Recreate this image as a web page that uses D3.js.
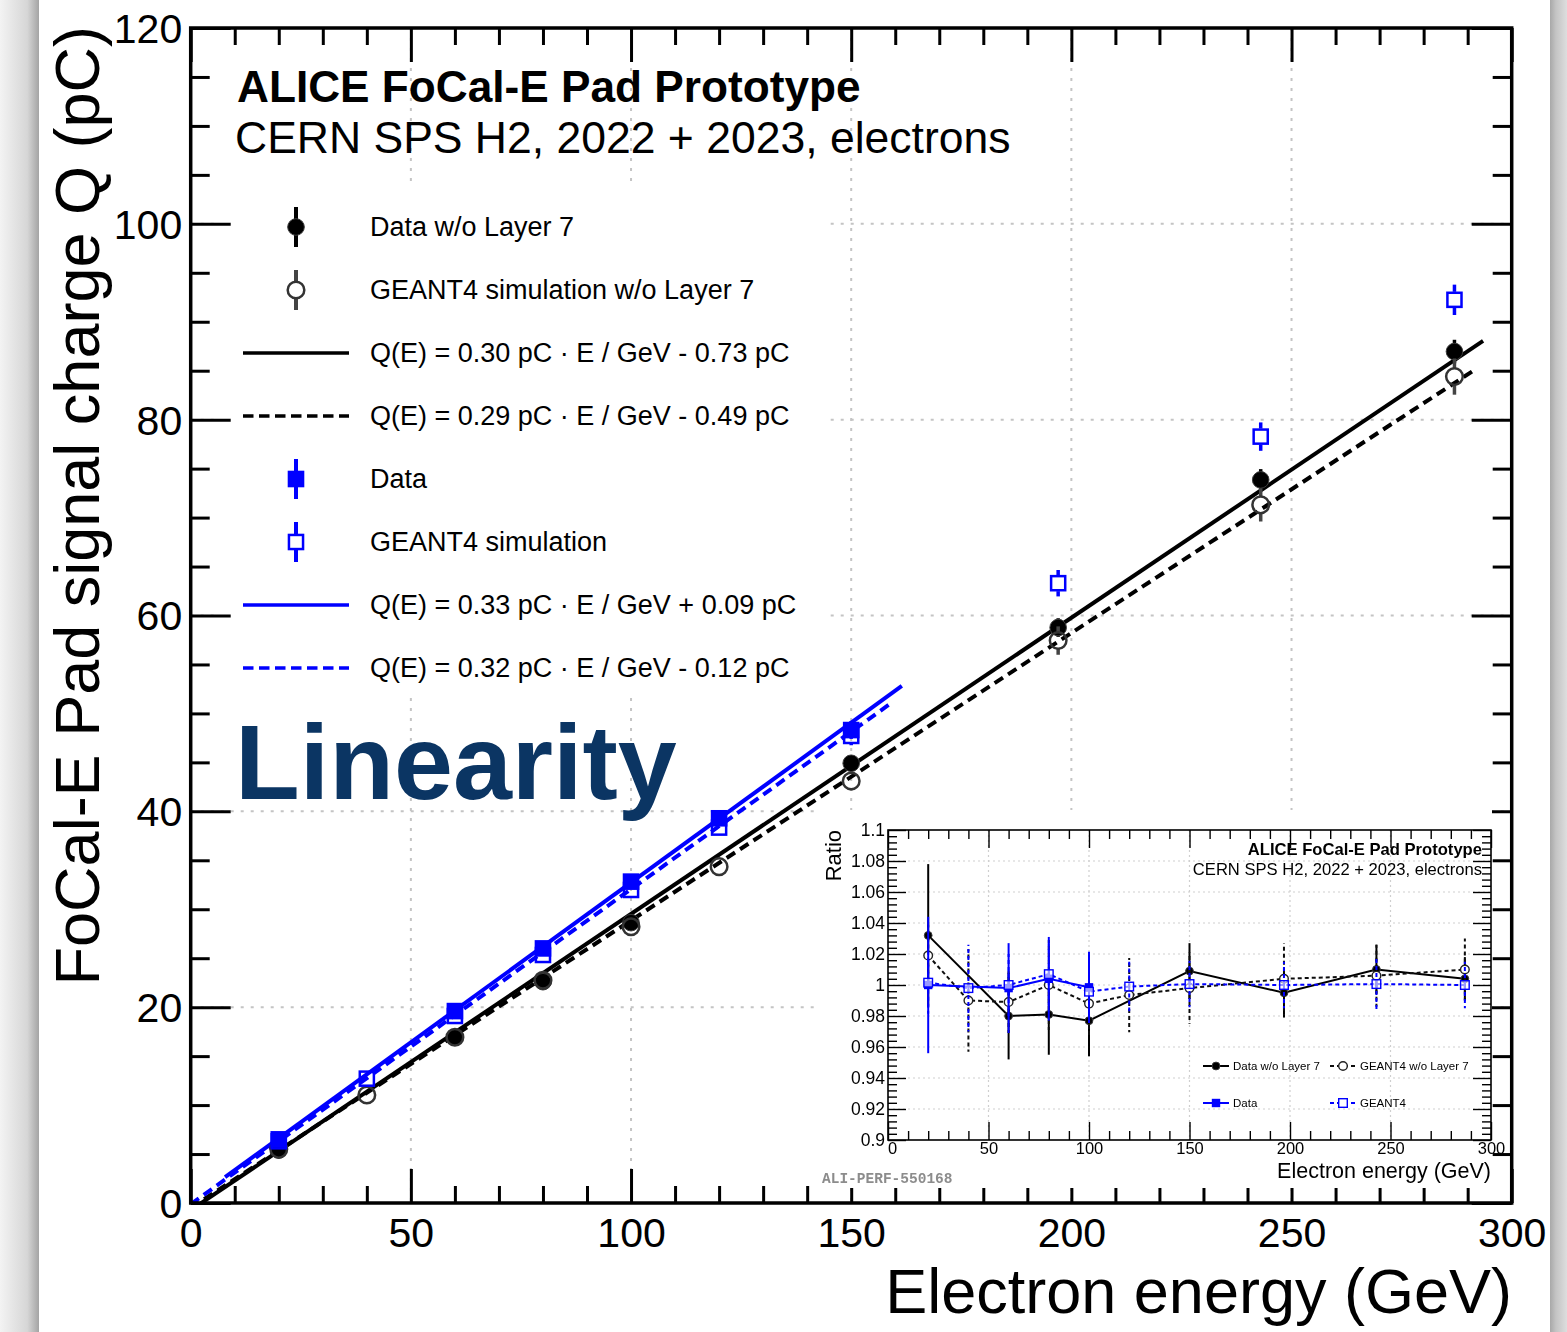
<!DOCTYPE html>
<html>
<head>
<meta charset="utf-8">
<script src="https://cdn.jsdelivr.net/npm/d3@7"></script>
<style>
  body { margin: 0; background: #fff; }
  svg { display: block; }
</style>
</head>
<body>
<svg id="chart" width="1567" height="1332"></svg>
<script>
// ---------------- data ----------------
// beam energies (GeV)
const energies = [20, 40, 60, 80, 100, 120, 150, 197, 243, 287];

// signal charge (pC), configuration without layer 7
const dataNoL7E = [20, 60, 80, 100, 150, 197, 243, 287];
const dataNoL7Q = [5.41, 16.93, 22.6, 28.63, 44.91, 58.77, 73.85, 86.96];
const dataNoL7Err = [0.25, 0.48, 0.58, 0.65, 0.8, 0.95, 1.1, 1.2];
const simNoL7Q = [5.48, 11.03, 16.92, 22.75, 28.22, 34.35, 43.1, 57.44, 71.3, 84.4];
const simNoL7Err = [0.15, 0.35, 0.4, 0.6, 0.6, 0.8, 0.95, 1.45, 1.7, 1.85];

// signal charge (pC), full configuration
const dataE = [20, 60, 80, 100, 120, 150];
const dataQ = [6.5, 19.6, 26.0, 32.82, 39.29, 48.3];
const dataErr = [0.25, 0.55, 0.7, 0.7, 0.8, 0.9];
const simQ = [6.3, 12.7, 19.1, 25.33, 31.97, 38.34, 47.7, 63.3, 78.27, 92.24];
const simErr = [0.2, 0.35, 0.5, 0.6, 0.7, 0.8, 0.95, 1.35, 1.45, 1.55];

// linear fits Q(E) = slope * E + offset, drawn over their fit ranges
const fitSlopes = [0.3025, 0.2935, 0.3264, 0.3217];
const fitOffsets = [-0.73, -0.49, 0.09, -0.12];
const fitRanges = [[0, 293.5], [0, 292.1], [7.8, 161.5], [0, 159.2]];

// ratio to fit (inset)
const ratioDataNoL7 = [1.032, 0.980, 0.981, 0.977, 1.009, 0.995, 1.010, 1.004];
const ratioDataNoL7Err = [0.046, 0.028, 0.026, 0.023, 0.018, 0.016, 0.016, 0.014];
const ratioSimNoL7 = [1.019, 0.990, 0.989, 1.000, 0.988, 0.9935, 0.998, 1.004, 1.006, 1.010];
const ratioSimNoL7Err = [0.02, 0.033, 0.02, 0.029, 0.02, 0.024, 0.023, 0.023, 0.02, 0.02];
const ratioDataE = [20, 60, 80, 100];
const ratioData = [1.000, 0.998, 1.004, 0.9985];
const ratioDataErr = [0.044, 0.029, 0.027, 0.023];
const ratioSim = [1.0015, 0.998, 1.000, 1.007, 0.9957, 0.999, 1.0006, 1.000, 1.0006, 1.000];
const ratioSimErr = [0.02, 0.028, 0.02, 0.02, 0.02, 0.016, 0.015, 0.015, 0.017, 0.015];

// axis ticks
const xMajorTicks = [0, 50, 100, 150, 200, 250, 300];
const yMajorTicks = [0, 20, 40, 60, 80, 100, 120];
const ratioTicks = [0.9, 0.92, 0.94, 0.96, 0.98, 1, 1.02, 1.04, 1.06, 1.08, 1.1];

// texts
const titleText = "ALICE FoCal-E Pad Prototype";
const subtitleText = "CERN SPS H2, 2022 + 2023, electrons";
const xTitle = "Electron energy (GeV)";
const yTitle = "FoCal-E Pad signal charge Q (pC)";
const seriesNames = ["Data w/o Layer 7", "GEANT4 simulation w/o Layer 7", "Data", "GEANT4 simulation"];
const insetNames = ["Data w/o Layer 7", "GEANT4 w/o Layer 7", "Data", "GEANT4"];
const watermark = "ALI-PERF-550168";

// ---------------- drawing ----------------
const FONT = '"Liberation Sans", Arial, Helvetica, sans-serif';
const BLUE = "#0000ff";
const W = 1567, H = 1332;
const svg = d3.select("#chart");
const defs = svg.append("defs");

// page edge shading
const gl = defs.append("linearGradient").attr("id", "edgeL");
gl.append("stop").attr("offset", 0).attr("stop-color", "#f3f3f3");
gl.append("stop").attr("offset", 0.7).attr("stop-color", "#d6d6d6");
gl.append("stop").attr("offset", 1).attr("stop-color", "#a4a4a4");
svg.append("rect").attr("x", 0).attr("y", 0).attr("width", 39).attr("height", H).attr("fill", "url(#edgeL)");
const gr = defs.append("linearGradient").attr("id", "edgeR");
gr.append("stop").attr("offset", 0).attr("stop-color", "#a8a8a8");
gr.append("stop").attr("offset", 0.35).attr("stop-color", "#c4c4c4");
gr.append("stop").attr("offset", 1).attr("stop-color", "#dedede");
svg.append("rect").attr("x", 1550).attr("y", 0).attr("width", W - 1550).attr("height", H).attr("fill", "url(#edgeR)");

// main scales
const x = d3.scaleLinear().domain([0, 300]).range([190.7, 1511.7]);
const y = d3.scaleLinear().domain([0, 120]).range([1203, 28]);

defs.append("clipPath").attr("id", "frameClip").append("rect")
  .attr("x", x(0)).attr("y", y(120)).attr("width", x(300) - x(0)).attr("height", y(0) - y(120));

// grid
const grid = svg.append("g").attr("stroke", "#c4c4c4").attr("stroke-width", 2).attr("stroke-dasharray", "3,7");
grid.selectAll("line.gx").data(xMajorTicks.slice(1, -1)).join("line").attr("class", "gx")
  .attr("x1", d => x(d)).attr("x2", d => x(d)).attr("y1", y(120)).attr("y2", y(0));
grid.selectAll("line.gy").data(yMajorTicks.slice(1, -1)).join("line").attr("class", "gy")
  .attr("x1", x(0)).attr("x2", x(300)).attr("y1", d => y(d)).attr("y2", d => y(d));

// legend background
svg.append("rect").attr("x", 219).attr("y", 187).attr("width", 609).attr("height", 508).attr("fill", "#fff");

// fits
const fitStyles = [
  { color: "#000", dash: null },
  { color: "#000", dash: "10,6" },
  { color: BLUE, dash: null },
  { color: BLUE, dash: "10,6" }
];
const lineGen = d3.line().x(d => x(d[0])).y(d => y(d[1]));
const fitG = svg.append("g").attr("clip-path", "url(#frameClip)");
fitSlopes.forEach((s, i) => {
  const pts = fitRanges[i].map(e => [e, s * e + fitOffsets[i]]);
  fitG.append("path").attr("d", lineGen(pts)).attr("fill", "none")
    .attr("stroke", fitStyles[i].color).attr("stroke-width", 4)
    .attr("stroke-dasharray", fitStyles[i].dash);
});

// marker helpers
function errBar(g, cx, cy, up, down, gap, color, width, dash) {
  // vertical error bar, interrupted by the marker body
  if (up > gap) g.append("line").attr("x1", cx).attr("x2", cx).attr("y1", cy - gap).attr("y2", cy - up)
    .attr("stroke", color).attr("stroke-width", width).attr("stroke-dasharray", dash || null);
  if (down > gap) g.append("line").attr("x1", cx).attr("x2", cx).attr("y1", cy + gap).attr("y2", cy + down)
    .attr("stroke", color).attr("stroke-width", width).attr("stroke-dasharray", dash || null);
}
function marker(g, type, cx, cy, size, sw) {
  if (type === "fc") g.append("circle").attr("cx", cx).attr("cy", cy).attr("r", size)
    .attr("fill", "#000").attr("stroke", "#3a3a3a").attr("stroke-width", 1);
  else if (type === "oc") g.append("circle").attr("cx", cx).attr("cy", cy).attr("r", size)
    .attr("fill", "none").attr("stroke", "#333").attr("stroke-width", sw);
  else if (type === "fs") g.append("rect").attr("x", cx - size).attr("y", cy - size)
    .attr("width", 2 * size).attr("height", 2 * size).attr("fill", BLUE);
  else if (type === "os") g.append("rect").attr("x", cx - size + sw / 2).attr("y", cy - size + sw / 2)
    .attr("width", 2 * size - sw).attr("height", 2 * size - sw).attr("fill", "none")
    .attr("stroke", BLUE).attr("stroke-width", sw);
}

// points (main)
const ptsG = svg.append("g");
function drawSeries(es, qs, errs, type, color) {
  es.forEach((e, i) => {
    const cx = x(e), cy = y(qs[i]);
    const up = cy - y(qs[i] + errs[i]), down = y(qs[i] - errs[i]) - cy;
    const filled = type === "fc" || type === "fs";
    errBar(ptsG, cx, cy, up, down, filled ? 0 : 8, color, 3.5);
    marker(ptsG, type, cx, cy, 8.3, 2.5);
  });
}
drawSeries(dataNoL7E, dataNoL7Q, dataNoL7Err, "fc", "#000");
drawSeries(energies, simNoL7Q, simNoL7Err, "oc", "#444");
drawSeries(dataE, dataQ, dataErr, "fs", BLUE);
drawSeries(energies, simQ, simErr, "os", BLUE);

// title
svg.append("text").attr("x", 237).attr("y", 102).attr("font-family", FONT).attr("font-weight", "bold")
  .attr("font-size", 44.2).attr("fill", "#000").text(titleText);
svg.append("text").attr("x", 235).attr("y", 153).attr("font-family", FONT)
  .attr("font-size", 44.5).attr("fill", "#000").text(subtitleText);

// legend
function fitLabel(i) {
  const o = fitOffsets[i];
  return `Q(E) = ${fitSlopes[i].toFixed(2)} pC \u00b7 E / GeV ${o < 0 ? "-" : "+"} ${Math.abs(o).toFixed(2)} pC`;
}
const legendEntries = [
  { kind: "fc", label: seriesNames[0], color: "#000" },
  { kind: "oc", label: seriesNames[1], color: "#444" },
  { kind: "line", fit: 0, label: fitLabel(0) },
  { kind: "line", fit: 1, label: fitLabel(1) },
  { kind: "fs", label: seriesNames[2], color: BLUE },
  { kind: "os", label: seriesNames[3], color: BLUE },
  { kind: "line", fit: 2, label: fitLabel(2) },
  { kind: "line", fit: 3, label: fitLabel(3) }
];
const legG = svg.append("g");
legendEntries.forEach((d, i) => {
  const cy = 227 + i * 63;
  if (d.kind === "line") {
    legG.append("line").attr("x1", 243).attr("x2", 349).attr("y1", cy).attr("y2", cy)
      .attr("stroke", fitStyles[d.fit].color).attr("stroke-width", 3.5)
      .attr("stroke-dasharray", fitStyles[d.fit].dash ? "10.5,5.5" : null);
  } else {
    const filled = d.kind === "fc" || d.kind === "fs";
    errBar(legG, 296, cy, 20, 20, filled ? 0 : 8, d.color, 4);
    marker(legG, d.kind, 296, cy, 8.3, 2.5);
  }
  legG.append("text").attr("x", 370).attr("y", cy + 9).attr("font-family", FONT)
    .attr("font-size", 27).attr("fill", "#000").text(d.label);
});

// big label
svg.append("text").attr("x", 235).attr("y", 799).attr("font-family", FONT).attr("font-weight", "bold")
  .attr("font-size", 106).attr("fill", "#0b3563").text("Linearity");

// main axes
function styleAxis(g, w) {
  g.select(".domain").remove();
  g.selectAll(".tick line").attr("stroke", "#000").attr("stroke-width", w);
}
const minorX = d3.range(0, 301, 10).filter(v => v % 50 !== 0);
const minorY = d3.range(0, 121, 5).filter(v => v % 20 !== 0);
const axG = svg.append("g");
axG.append("g").attr("transform", `translate(0,${y(0)})`)
  .call(d3.axisBottom(x).tickValues(xMajorTicks).tickSize(-34).tickPadding(15).tickFormat(d3.format("d")))
  .call(g => styleAxis(g, 3))
  .call(g => g.selectAll("text").attr("font-family", FONT).attr("font-size", 41).attr("fill", "#000"));
axG.append("g").attr("transform", `translate(0,${y(0)})`)
  .call(d3.axisBottom(x).tickValues(minorX).tickSize(-17).tickFormat(""))
  .call(g => styleAxis(g, 3));
axG.append("g").attr("transform", `translate(0,${y(120)})`)
  .call(d3.axisTop(x).tickValues(xMajorTicks).tickSize(-34).tickFormat(""))
  .call(g => styleAxis(g, 3));
axG.append("g").attr("transform", `translate(0,${y(120)})`)
  .call(d3.axisTop(x).tickValues(minorX).tickSize(-17).tickFormat(""))
  .call(g => styleAxis(g, 3));
axG.append("g").attr("transform", `translate(${x(0)},0)`)
  .call(d3.axisLeft(y).tickValues(yMajorTicks).tickSize(-40).tickPadding(8.5).tickFormat(d3.format("d")))
  .call(g => styleAxis(g, 3))
  .call(g => g.selectAll("text").attr("font-family", FONT).attr("font-size", 41).attr("fill", "#000").attr("dy", "0.35em"));
axG.append("g").attr("transform", `translate(${x(0)},0)`)
  .call(d3.axisLeft(y).tickValues(minorY).tickSize(-19).tickFormat(""))
  .call(g => styleAxis(g, 3));
axG.append("g").attr("transform", `translate(${x(300)},0)`)
  .call(d3.axisRight(y).tickValues(yMajorTicks).tickSize(-40).tickFormat(""))
  .call(g => styleAxis(g, 3));
axG.append("g").attr("transform", `translate(${x(300)},0)`)
  .call(d3.axisRight(y).tickValues(minorY).tickSize(-19).tickFormat(""))
  .call(g => styleAxis(g, 3));
axG.append("rect").attr("x", x(0)).attr("y", y(120)).attr("width", x(300) - x(0)).attr("height", y(0) - y(120))
  .attr("fill", "none").attr("stroke", "#000").attr("stroke-width", 3.5);

// axis titles
svg.append("text").attr("x", 1512).attr("y", 1313).attr("text-anchor", "end").attr("font-family", FONT)
  .attr("font-size", 63).attr("fill", "#000").text(xTitle);
svg.append("text").attr("transform", "translate(99,26) rotate(-90)").attr("text-anchor", "end")
  .attr("font-family", FONT).attr("font-size", 63).attr("fill", "#000").text(yTitle);

// ---------------- inset: ratio to fit ----------------
defs.append("filter").attr("id", "soft").append("feGaussianBlur").attr("stdDeviation", 0.45);
const inset = svg.append("g");
inset.append("rect").attr("x", 816).attr("y", 810).attr("width", 676).attr("height", 378).attr("fill", "#fff");
const ins = inset.append("g").attr("filter", "url(#soft)");
const ix = d3.scaleLinear().domain([0, 300]).range([888, 1491]);
const iy = d3.scaleLinear().domain([0.9, 1.1]).range([1140, 830]);

// inset grid
const ig = ins.append("g").attr("stroke", "#cfcfcf").attr("stroke-width", 1.2).attr("stroke-dasharray", "2,3");
ig.selectAll("line.vx").data(xMajorTicks.slice(1, -1)).join("line").attr("class", "vx")
  .attr("x1", d => ix(d)).attr("x2", d => ix(d)).attr("y1", iy(1.1)).attr("y2", iy(0.9));
ig.selectAll("line.hy").data(ratioTicks.slice(1, -1)).join("line").attr("class", "hy")
  .attr("x1", ix(0)).attr("x2", ix(300)).attr("y1", d => iy(d)).attr("y2", d => iy(d));

// inset axes
const rMinorY = d3.range(0, 51).map(i => 0.9 + i * 0.004).filter((v, i) => i % 5 !== 0);
const rMinorX = d3.range(0, 301, 10).filter(v => v % 50 !== 0);
const fmtRatio = d => String(+d.toFixed(2));
ins.append("g").attr("transform", `translate(0,${iy(0.9)})`)
  .call(d3.axisBottom(ix).tickValues(xMajorTicks).tickSize(-18).tickPadding(2.5).tickFormat(d3.format("d")))
  .call(g => styleAxis(g, 1.4))
  .call(g => g.selectAll("text").attr("font-family", FONT).attr("font-size", 16.5).attr("fill", "#000"))
  .call(g => g.selectAll(".tick").filter(d => d === 0).select("text").attr("dx", 4));
ins.append("g").attr("transform", `translate(0,${iy(0.9)})`)
  .call(d3.axisBottom(ix).tickValues(rMinorX).tickSize(-9).tickFormat("")).call(g => styleAxis(g, 1.4));
ins.append("g").attr("transform", `translate(0,${iy(1.1)})`)
  .call(d3.axisTop(ix).tickValues(xMajorTicks).tickSize(-18).tickFormat("")).call(g => styleAxis(g, 1.4));
ins.append("g").attr("transform", `translate(0,${iy(1.1)})`)
  .call(d3.axisTop(ix).tickValues(rMinorX).tickSize(-9).tickFormat("")).call(g => styleAxis(g, 1.4));
ins.append("g").attr("transform", `translate(${ix(0)},0)`)
  .call(d3.axisLeft(iy).tickValues(ratioTicks).tickSize(-18).tickPadding(3).tickFormat(fmtRatio))
  .call(g => styleAxis(g, 1.4))
  .call(g => g.selectAll("text").attr("font-family", FONT).attr("font-size", 17.5).attr("fill", "#000"));
ins.append("g").attr("transform", `translate(${ix(0)},0)`)
  .call(d3.axisLeft(iy).tickValues(rMinorY).tickSize(-9).tickFormat("")).call(g => styleAxis(g, 1.4));
ins.append("g").attr("transform", `translate(${ix(300)},0)`)
  .call(d3.axisRight(iy).tickValues(ratioTicks).tickSize(-18).tickFormat("")).call(g => styleAxis(g, 1.4));
ins.append("g").attr("transform", `translate(${ix(300)},0)`)
  .call(d3.axisRight(iy).tickValues(rMinorY).tickSize(-9).tickFormat("")).call(g => styleAxis(g, 1.4));
ins.append("rect").attr("x", ix(0)).attr("y", iy(1.1)).attr("width", ix(300) - ix(0)).attr("height", iy(0.9) - iy(1.1))
  .attr("fill", "none").attr("stroke", "#000").attr("stroke-width", 1.6);

// inset series
const iline = d3.line().x(d => ix(d[0])).y(d => iy(d[1]));
function insetSeries(es, rs, errs, type, color, dash) {
  const g = ins.append("g");
  es.forEach((e, i) => {
    const cx = ix(e), cy = iy(rs[i]);
    const up = cy - iy(rs[i] + errs[i]), down = iy(rs[i] - errs[i]) - cy;
    errBar(g, cx, cy, up, down, 0, color, 2, dash);
  });
  g.append("path").attr("d", iline(es.map((e, i) => [e, rs[i]]))).attr("fill", "none")
    .attr("stroke", color).attr("stroke-width", 2).attr("stroke-dasharray", dash);
  es.forEach((e, i) => {
    const cx = ix(e), cy = iy(rs[i]);
    if (type === "oc") g.append("circle").attr("cx", cx).attr("cy", cy).attr("r", 4.3)
      .attr("fill", "#fff").attr("stroke", "#222").attr("stroke-width", 1.4);
    else if (type === "os") g.append("rect").attr("x", cx - 4.3).attr("y", cy - 4.3).attr("width", 8.6).attr("height", 8.6)
      .attr("fill", "#fff").attr("fill-opacity", 0.6).attr("stroke", BLUE).attr("stroke-width", 1.4);
    else marker(g, type, cx, cy, type === "fc" ? 3.9 : 4.2, 1);
  });
}
insetSeries(dataNoL7E, ratioDataNoL7, ratioDataNoL7Err, "fc", "#000", null);
insetSeries(energies, ratioSimNoL7, ratioSimNoL7Err, "oc", "#111", "4,3");
insetSeries(ratioDataE, ratioData, ratioDataErr, "fs", BLUE, null);
insetSeries(energies, ratioSim, ratioSimErr, "os", BLUE, "4,3");

// inset texts
ins.append("text").attr("x", 1482).attr("y", 855).attr("text-anchor", "end").attr("font-family", FONT)
  .attr("font-weight", "bold").attr("font-size", 16.6).attr("fill", "#000").text(titleText);
ins.append("text").attr("x", 1482).attr("y", 875).attr("text-anchor", "end").attr("font-family", FONT)
  .attr("font-size", 16.6).attr("fill", "#000").text(subtitleText);
ins.append("text").attr("x", 1491).attr("y", 1178).attr("text-anchor", "end").attr("font-family", FONT)
  .attr("font-size", 21.5).attr("fill", "#000").text(xTitle);
ins.append("text").attr("transform", "translate(841,830) rotate(-90)").attr("text-anchor", "end")
  .attr("font-family", FONT).attr("font-size", 22).attr("fill", "#000").text("Ratio");

// inset legend
const insetLeg = [
  { type: "fc", color: "#000", dash: null, x: 1203, y: 1066, name: insetNames[0] },
  { type: "oc", color: "#111", dash: "4,3", x: 1330, y: 1066, name: insetNames[1] },
  { type: "fs", color: BLUE, dash: null, x: 1203, y: 1103, name: insetNames[2] },
  { type: "os", color: BLUE, dash: "4,3", x: 1330, y: 1103, name: insetNames[3] }
];
insetLeg.forEach(d => {
  ins.append("line").attr("x1", d.x).attr("x2", d.x + 26).attr("y1", d.y).attr("y2", d.y)
    .attr("stroke", d.color).attr("stroke-width", 2).attr("stroke-dasharray", d.dash);
  const cx = d.x + 13;
  if (d.type === "oc") ins.append("circle").attr("cx", cx).attr("cy", d.y).attr("r", 4.3)
    .attr("fill", "#fff").attr("stroke", "#222").attr("stroke-width", 1.4);
  else if (d.type === "os") ins.append("rect").attr("x", cx - 4.3).attr("y", d.y - 4.3).attr("width", 8.6)
    .attr("height", 8.6).attr("fill", "#fff").attr("stroke", BLUE).attr("stroke-width", 1.4);
  else marker(ins, d.type, cx, d.y, d.type === "fc" ? 3.9 : 4.2, 1);
  ins.append("text").attr("x", d.x + 30).attr("y", d.y + 4.2).attr("font-family", FONT)
    .attr("font-size", 11.5).attr("fill", "#000").text(d.name);
});

ins.append("text").attr("x", 822).attr("y", 1183).attr("font-family", '"Liberation Mono", "Courier New", monospace')
  .attr("font-weight", "bold").attr("font-size", 14.5).attr("fill", "#8c8c8c").text(watermark);
</script>
</body>
</html>
